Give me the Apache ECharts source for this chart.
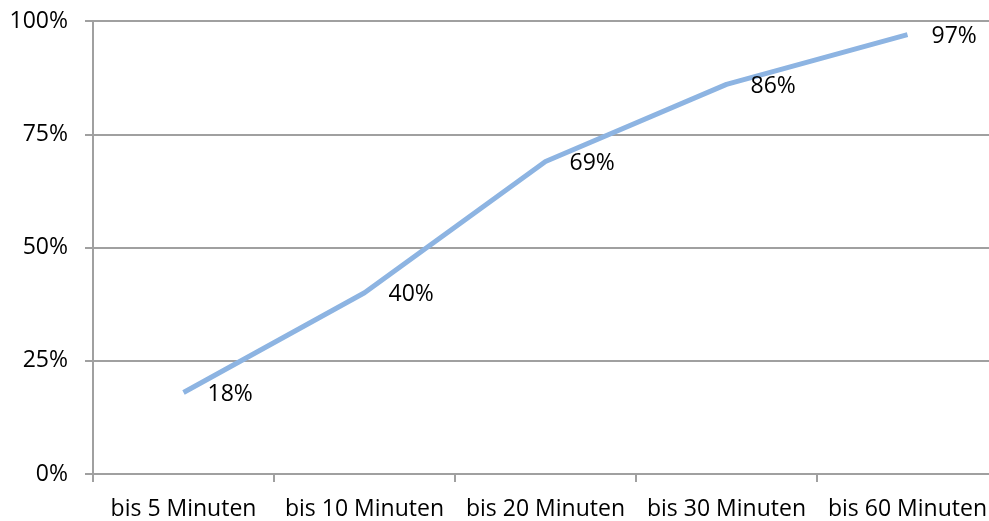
<!DOCTYPE html>
<html><head><meta charset="utf-8">
<script src="https://cdn.jsdelivr.net/npm/echarts@6/dist/echarts.min.js"></script>
<style>html,body{margin:0;padding:0;background:#fff;overflow:hidden}#c{width:1010px;height:521px}</style>
</head><body><div id="c"></div>
<script>
const categories = ['bis 5 Minuten','bis 10 Minuten','bis 20 Minuten','bis 30 Minuten','bis 60 Minuten'];
const values = [18, 40, 69, 86, 97];
const yTicks = [0, 25, 50, 75, 100];
const FONT = 'Open Sans';
const FS = 23;
const chart = echarts.init(document.getElementById('c'), null, {renderer:'canvas'});
chart.setOption({
  animation:false,
  grid:{left:93, top:21, width:905, height:453, containLabel:false},
  xAxis:{type:'category', data:categories, boundaryGap:true,
    axisLine:{lineStyle:{color:'#a0a0a0', width:2}},
    axisTick:{show:true, length:8, alignWithLabel:false, lineStyle:{color:'#a0a0a0', width:2}},
    axisLabel:{color:'#000', fontFamily:FONT, fontSize:FS, margin:24, interval:0}},
  yAxis:{type:'value', min:0, max:100, interval:25,
    axisLine:{show:true, lineStyle:{color:'#a0a0a0', width:2}},
    axisTick:{show:true, length:8, lineStyle:{color:'#a0a0a0', width:2}},
    splitLine:{lineStyle:{color:'#a0a0a0', width:2}},
    axisLabel:{color:'#000', fontFamily:FONT, fontSize:FS, margin:25,
      formatter:v=> yTicks.includes(v) ? v + '%' : ''}},
  series:[{type:'line', data:values, symbol:'circle', symbolSize:0.1, showSymbol:true,
    itemStyle:{color:'#8DB4E2'},
    lineStyle:{color:'#8DB4E2', width:5},
    label:{show:true, position:'right', distance:24, offset:[0,2], color:'#000', fontFamily:FONT, fontSize:FS,
      formatter:p=>p.value+'%'}}]
});
</script></body></html>
